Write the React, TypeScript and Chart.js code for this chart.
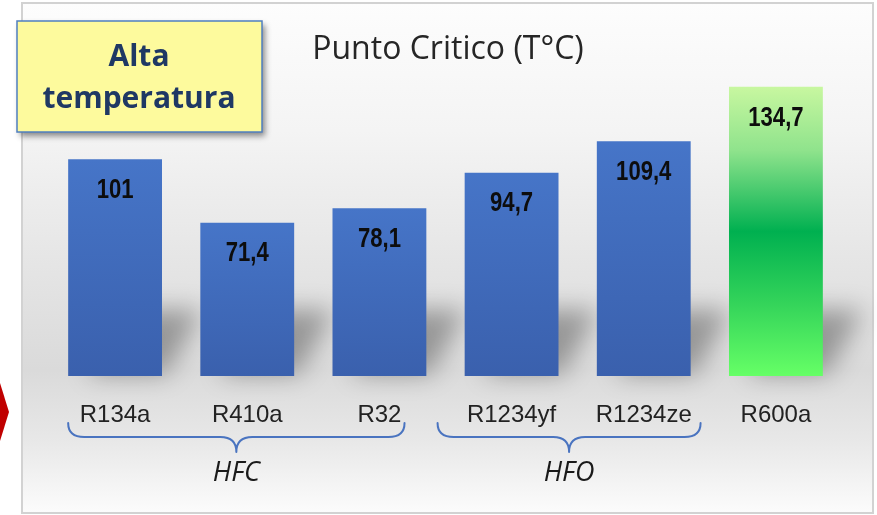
import React, { useEffect, useRef } from "react";
import { Chart, registerables } from "chart.js";

Chart.register(...registerables);

const categories = ["R134a", "R410a", "R32", "R1234yf", "R1234ze", "R600a"];
const values = [101, 71.4, 78.1, 94.7, 109.4, 134.7];
const valueLabels = ["101", "71,4", "78,1", "94,7", "109,4", "134,7"];
const highlighted = [false, false, false, false, false, true];
const groupNames = ["HFC", "HFO"];
const groupStart = [-0.355, 2.44];
const groupEnd = [2.19, 4.43];
const titleText = "Punto Critico (T°C)";
const badgeLines = ["Alta", "temperatura"];

const decor = {
  id: "decor",
  beforeDraw(chart: any) {
    const ctx = chart.ctx as CanvasRenderingContext2D;
    const W = chart.width;
    const H = chart.height;
    ctx.save();
    ctx.fillStyle = "#ffffff";
    ctx.fillRect(0, 0, W, H);
    ctx.fillStyle = "#c00000";
    ctx.beginPath();
    ctx.moveTo(0, 383);
    ctx.lineTo(9, 412);
    ctx.lineTo(0, 441);
    ctx.closePath();
    ctx.fill();
    const fx = 22, fy = 3, fw = 851, fh = 510;
    const g = ctx.createLinearGradient(0, fy, 0, fy + fh);
    g.addColorStop(0, "#fdfdfd");
    g.addColorStop(0.25, "#f4f4f4");
    g.addColorStop(0.55, "#e3e3e3");
    g.addColorStop(0.72, "#dadada");
    g.addColorStop(0.86, "#e8e8e8");
    g.addColorStop(1, "#fcfcfc");
    ctx.fillStyle = g;
    ctx.fillRect(fx, fy, fw, fh);
    ctx.strokeStyle = "#d2d2d2";
    ctx.lineWidth = 2;
    ctx.strokeRect(fx, fy, fw, fh);
    ctx.restore();
  },
  beforeDatasetsDraw(chart: any) {
    const ctx = chart.ctx as CanvasRenderingContext2D;
    const meta = chart.getDatasetMeta(0);
    ctx.save();
    ctx.filter = "blur(12px)";
    ctx.fillStyle = "rgba(0,0,0,0.32)";
    meta.data.forEach((el: any) => {
      const l = el.x - el.width / 2;
      const r = el.x + el.width / 2;
      const b = el.base;
      ctx.beginPath();
      ctx.moveTo(l + 20, b - 2);
      ctx.lineTo(r + 4, b - 2);
      ctx.lineTo(r + 40, b - 66);
      ctx.lineTo(l + 50, b - 66);
      ctx.closePath();
      ctx.fill();
    });
    ctx.restore();
  },
  afterDatasetsDraw(chart: any) {
    const ctx = chart.ctx as CanvasRenderingContext2D;
    const meta = chart.getDatasetMeta(0);
    ctx.save();
    ctx.fillStyle = "#0d0d0d";
    ctx.textAlign = "center";
    ctx.textBaseline = "middle";
    ctx.font = "bold 28px 'Liberation Sans', Arial, sans-serif";
    meta.data.forEach((el: any, i: number) => {
      ctx.save();
      ctx.translate(el.x, el.y + 31);
      ctx.scale(0.79, 1);
      ctx.fillText(valueLabels[i], 0, 0);
      ctx.restore();
    });
    ctx.restore();
  },
  afterDraw(chart: any) {
    const ctx = chart.ctx as CanvasRenderingContext2D;
    ctx.save();
    ctx.fillStyle = "#262626";
    ctx.textAlign = "center";
    ctx.textBaseline = "middle";
    ctx.font = "32px 'Open Sans', sans-serif";
    ctx.fillText(titleText, 448, 50);

    ctx.save();
    ctx.shadowColor = "rgba(0,0,0,0.45)";
    ctx.shadowBlur = 6;
    ctx.shadowOffsetX = 3;
    ctx.shadowOffsetY = 4;
    ctx.fillStyle = "#fdfa9d";
    ctx.fillRect(17, 21, 245, 111);
    ctx.restore();
    ctx.strokeStyle = "#4f7fc0";
    ctx.lineWidth = 1.5;
    ctx.strokeRect(17, 21, 245, 111);
    ctx.fillStyle = "#1f3864";
    ctx.font = "bold 30px 'Open Sans', sans-serif";
    ctx.fillText(badgeLines[0], 139, 57);
    ctx.fillText(badgeLines[1], 139, 99);

    const xs = chart.scales.x;
    const p0 = xs.getPixelForValue(0);
    const step = xs.getPixelForValue(1) - p0;
    const yTop = 423, yMid = 437, yTip = 452, r = 16;
    ctx.strokeStyle = "#4a74c0";
    ctx.lineWidth = 2;
    ctx.lineJoin = "round";
    ctx.lineCap = "round";
    groupNames.forEach((name, k) => {
      const x0 = p0 + groupStart[k] * step;
      const x1 = p0 + groupEnd[k] * step;
      const xm = (x0 + x1) / 2;
      ctx.beginPath();
      ctx.moveTo(x0, yTop);
      ctx.quadraticCurveTo(x0, yMid, x0 + r, yMid);
      ctx.lineTo(xm - r, yMid);
      ctx.quadraticCurveTo(xm, yMid, xm, yTip);
      ctx.quadraticCurveTo(xm, yMid, xm + r, yMid);
      ctx.lineTo(x1 - r, yMid);
      ctx.quadraticCurveTo(x1, yMid, x1, yTop);
      ctx.stroke();
      ctx.fillStyle = "#1a1a1a";
      ctx.font = "italic 27px 'Open Sans', sans-serif";
      ctx.fillText(name, xm, 473);
    });
    ctx.restore();
  },
};

export default function App() {
  const ref = useRef<HTMLCanvasElement>(null);
  useEffect(() => {
    if (!ref.current) return;
    const chart = new Chart(ref.current, {
      type: "bar",
      data: {
        labels: categories,
        datasets: [
          {
            data: values,
            backgroundColor: (c: any) => {
              const chart = c.chart;
              const i = c.dataIndex;
              if (!chart.chartArea || i === undefined || !chart.scales.y) return "#4472c4";
              const ys = chart.scales.y;
              const top = ys.getPixelForValue(values[i]);
              const bot = ys.getPixelForValue(0);
              const g = chart.ctx.createLinearGradient(0, top, 0, bot);
              if (highlighted[i]) {
                g.addColorStop(0, "#c8f7a0");
                g.addColorStop(0.22, "#8fe38c");
                g.addColorStop(0.5, "#00b050");
                g.addColorStop(0.75, "#34d45a");
                g.addColorStop(1, "#66ff66");
              } else {
                g.addColorStop(0, "#4675c8");
                g.addColorStop(1, "#3a60ad");
              }
              return g;
            },
            borderWidth: 0,
            categoryPercentage: 1,
            barPercentage: 0.71,
          },
        ],
      },
      options: {
        responsive: false,
        animation: false,
        devicePixelRatio: 1,
        layout: { padding: { top: 54, left: 49, right: 35, bottom: 0 } },
        plugins: { legend: { display: false }, tooltip: { enabled: false } },
        scales: {
          y: { display: false, min: 0, max: 150 },
          x: {
            grid: { display: false, drawTicks: false },
            border: { display: false },
            ticks: {
              color: "#222222",
              font: { family: "'Liberation Sans', Arial, sans-serif", size: 24 },
              padding: 25,
              maxRotation: 0,
              autoSkip: false,
            },
            afterFit: (s: any) => {
              s.height = 139;
            },
          },
        },
      },
      plugins: [decor],
    });
    return () => chart.destroy();
  }, []);
  return (
    <div style={{ position: "fixed", left: 0, top: 0, width: 877, height: 515 }}>
      <canvas ref={ref} width={877} height={515} style={{ display: "block" }} />
    </div>
  );
}
